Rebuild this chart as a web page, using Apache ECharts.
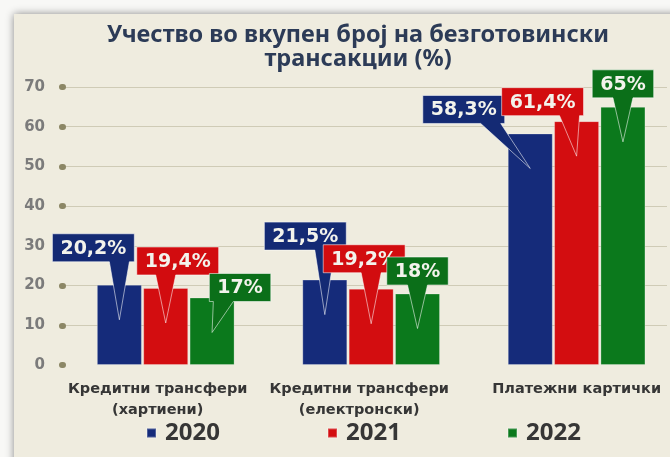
<!DOCTYPE html>
<html><head><meta charset="utf-8">
<script src="https://cdn.jsdelivr.net/npm/echarts@6/dist/echarts.min.js"></script>
<style>html,body{margin:0;padding:0;background:#fafaf8}#c{width:670px;height:457px}</style>
</head><body><div id="c"></div>
<script>
// ---- data ----
const categories = ['Кредитни трансфери\n(хартиени)', 'Кредитни трансфери\n(електронски)', 'Платежни картички'];
const years = ['2020', '2021', '2022'];
const values2020 = [20.2, 21.5, 58.3];
const values2021 = [19.4, 19.2, 61.4];
const values2022 = [17, 18, 65];
const yMin = 0, yMax = 70, yInterval = 10;
const titleText = 'Учество во вкупен број на безготовински\nтрансакции (%)';

// ---- style / layout ----
const seriesValues = [values2020, values2021, values2022];
const barColors = ['#152b7a', '#d30d10', '#0b791c'];
const boxColors = ['#142a74', '#d20c0f', '#0b6f19'];
const barWidth = 45, barGapRatio = 0.03, barStep = barWidth * (1 + barGapRatio);
// x extent: category slots of ~206px within the visible plot
const xMax = 2.94;
// callout box centre offsets from the bar-top centre, px [series][category]
const calloutOffsets = [
  [[-26, -37], [-19.5, -43.5], [-66.5, -24]],
  [[12, -27], [-7, -30], [-34, -19.5]],
  [[28, -10], [0, -22.5], [0, -23]]
];
const labelShiftPad = [16, 24, 0]; // right padding shifting category labels left
const legendLefts = [141, 322, 502];
const calloutFont = 'bold 19px "DejaVu Sans"';

const mctx = document.createElement('canvas').getContext('2d');
function measure(t) { mctx.font = calloutFont; return mctx.measureText(t).width; }
function fmt(v) { return String(v).replace('.', ',') + '%'; }
const slot = i => i + 0.5;

function makeCallout(si) {
  return {
    type: 'custom', name: 'c' + years[si], z: 10 + si, clip: false, silent: true,
    data: seriesValues[si].map((v, i) => [slot(i), v, i]),
    encode: { x: 0, y: 1 },
    renderItem(params, api) {
      const x = api.value(0), v = api.value(1), i = api.value(2);
      const p = api.coord([x, v]);
      const bx = p[0] + (si - 1) * barStep, by = p[1];
      const off = calloutOffsets[si][i];
      const text = fmt(v);
      const w = measure(text) + 16, h = 28;
      const cx = bx + off[0], cy = by + off[1];
      const x0 = cx - w / 2, x1 = cx + w / 2, y0 = cy - h / 2, y1 = cy + h / 2;
      const tipX = bx, tipY = by + 35;
      const m = Math.min(Math.max(tipX, x0 + 14), x1 - 14);
      const pts = [[x0, y0], [x1, y0], [x1, y1], [m + 10, y1], [tipX, tipY], [m - 10, y1], [x0, y1]];
      return {
        type: 'group', children: [
          { type: 'polygon', shape: { points: pts }, style: { fill: boxColors[si], stroke: 'rgba(255,255,255,0.55)', lineWidth: 1 } },
          { type: 'text', x: cx, y: cy + 1, style: { text: text, fill: '#f3f3ec', font: calloutFont, align: 'center', verticalAlign: 'middle' } }
        ]
      };
    }
  };
}

const rich = {};
labelShiftPad.forEach((p, k) => {
  rich['c' + k] = { fontFamily: 'DejaVu Sans', fontSize: 14.5, fontWeight: 'bold', color: '#363636', lineHeight: 21, padding: [0, p, 0, 0] };
});

const chart = echarts.init(document.getElementById('c'));
const barSeries = years.map((y, si) => ({
  type: 'bar', name: y, data: seriesValues[si].map((v, i) => [slot(i), v]),
  barWidth: barWidth, barGap: (barGapRatio * 100) + '%',
  itemStyle: { color: barColors[si], borderColor: 'rgba(255,255,255,0.25)', borderWidth: 1 },
  z: 2
}));

chart.setOption({
  backgroundColor: '#f8f8f6',
  animation: false,
  graphic: [{
    type: 'rect', z: -100, shape: { x: 14, y: 14, width: 720, height: 500 },
    style: { fill: '#efecdf', shadowBlur: 8, shadowColor: 'rgba(0,0,0,0.45)' }
  }],
  title: {
    text: titleText, left: 358, top: 23, textAlign: 'center', padding: 0,
    textStyle: { fontFamily: 'Noto Sans', fontSize: 23.5, fontWeight: 'bold', color: '#2c3b57', lineHeight: 24 }
  },
  legend: years.map((y, k) => ({
    data: [y], left: legendLefts[k], top: 416, icon: 'rect', itemWidth: 9, itemHeight: 9, itemGap: 0,
    textStyle: { fontFamily: 'Noto Sans', fontSize: 24, fontWeight: 'bold', color: '#363636', padding: [0, 0, 0, 4] }
  })),
  grid: { left: 63, top: 87, right: 0, height: 278 },
  xAxis: {
    type: 'value', min: 0, max: xMax, interval: 0.5,
    axisLine: { show: false }, axisTick: { show: false }, splitLine: { show: false },
    axisLabel: {
      margin: 14, showMinLabel: true, showMaxLabel: true,
      formatter: function (val) {
        const k = Math.round(val - 0.5);
        if (Math.abs(val - slot(k)) < 1e-6 && k >= 0 && k < categories.length) {
          return categories[k].split('\n').map(s => '{c' + k + '|' + s + '}').join('\n');
        }
        return '';
      },
      rich: rich
    }
  },
  yAxis: {
    type: 'value', min: yMin, max: yMax, interval: yInterval,
    axisLine: { show: false },
    axisTick: { show: true, length: 1, lineStyle: { color: '#8c8766', width: 6, cap: 'round' } },
    axisLabel: { fontFamily: 'DejaVu Sans', fontSize: 15, fontWeight: 'bold', color: '#7b7b7b', margin: 18 },
    splitLine: { lineStyle: { color: '#cfcbb6', width: 1 }, showMinLine: false }
  },
  series: barSeries.concat(years.map((y, si) => makeCallout(si)))
});
</script></body></html>
